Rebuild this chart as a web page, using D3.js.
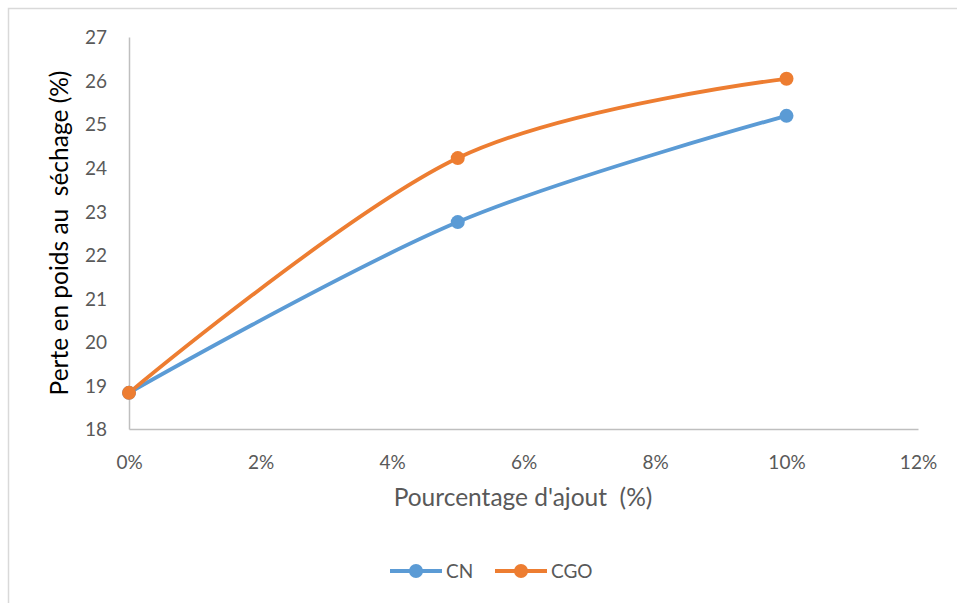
<!DOCTYPE html>
<html><head><meta charset="utf-8">
<script src="https://cdn.jsdelivr.net/npm/d3@7"></script>
<style>body{margin:0;background:#fff}svg{display:block}text{white-space:pre}</style>
</head><body>
<script>
const xValues = [0, 0.05, 0.10];
const seriesNames = ["CN", "CGO"];
const cnValues = [18.83, 22.75, 25.19];
const cgoValues = [18.83, 24.22, 26.04];
const colors = ["#5b9bd5", "#ed7d31"];
const xTicks = [0, 0.02, 0.04, 0.06, 0.08, 0.10, 0.12];
const yTicks = [18, 19, 20, 21, 22, 23, 24, 25, 26, 27];
const xTitle = "Pourcentage d'ajout  (%)";
const yTitle = "Perte en poids au  séchage (%)";

const W = 957, H = 603;
const svg = d3.select("body").append("svg").attr("width", W).attr("height", H);
const font = "Lato, 'Open Sans', 'Liberation Sans', sans-serif";

svg.append("rect").attr("x", 8.5).attr("y", 8.5).attr("width", 1000).attr("height", 1000)
  .attr("fill", "#fff").attr("stroke", "#d9d9d9").attr("stroke-width", 1.5);

const x = d3.scaleLinear().domain([0, 0.12]).range([129, 918]);
const y = d3.scaleLinear().domain([18, 27]).range([429, 37]);

// axes
const xAxis = svg.append("g").attr("transform", `translate(0,${y(18)})`)
  .call(d3.axisBottom(x).tickValues(xTicks).tickSize(0).tickFormat(d3.format(".0%")));
xAxis.select(".domain").attr("stroke", "#bfbfbf").attr("stroke-width", 1.5);
xAxis.selectAll("text").attr("dy", 0).attr("y", 40).attr("fill", "#595959")
  .style("font-family", font).style("font-size", "19px");

const yAxis = svg.append("g").attr("transform", `translate(${x(0)},0)`)
  .call(d3.axisLeft(y).tickValues(yTicks).tickSize(0).tickFormat(d3.format("d")));
yAxis.select(".domain").attr("stroke", "#bfbfbf").attr("stroke-width", 1.5);
yAxis.selectAll("text").attr("x", -22).attr("dy", "0.36em").attr("fill", "#595959")
  .style("font-family", font).style("font-size", "19px");

// titles
svg.append("text").attr("x", 523).attr("y", 506).attr("text-anchor", "middle")
  .attr("fill", "#595959").style("font-family", font).style("font-size", "24.5px").text(xTitle);
svg.append("text").attr("transform", `translate(68,233) rotate(-90)`).attr("text-anchor", "middle")
  .attr("fill", "#000").style("font-family", font).style("font-size", "24.5px").text(yTitle);

// series
const series = [cnValues, cgoValues];
const line = d3.line().x((d, i) => x(xValues[i])).y(d => y(d)).curve(d3.curveCardinal.tension(0));
series.forEach((vals, si) => {
  svg.append("path").datum(vals).attr("d", line).attr("fill", "none")
    .attr("stroke", colors[si]).attr("stroke-width", 3.8).attr("stroke-linecap", "round");
});
series.forEach((vals, si) => {
  svg.selectAll(null).data(vals).enter().append("circle")
    .attr("cx", (d, i) => x(xValues[i])).attr("cy", d => y(d)).attr("r", 7)
    .attr("fill", colors[si]);
});

// legend
const legendX = [390, 495];
seriesNames.forEach((name, i) => {
  const g = svg.append("g").attr("transform", `translate(${legendX[i]},571)`);
  g.append("line").attr("x1", 0).attr("x2", 52).attr("stroke", colors[i]).attr("stroke-width", 3.8);
  g.append("circle").attr("cx", 26).attr("r", 7).attr("fill", colors[i]);
  g.append("text").attr("x", 56).attr("dy", "0.36em").attr("fill", "#595959")
    .style("font-family", font).style("font-size", "19px").text(name);
});
</script>
</body></html>
